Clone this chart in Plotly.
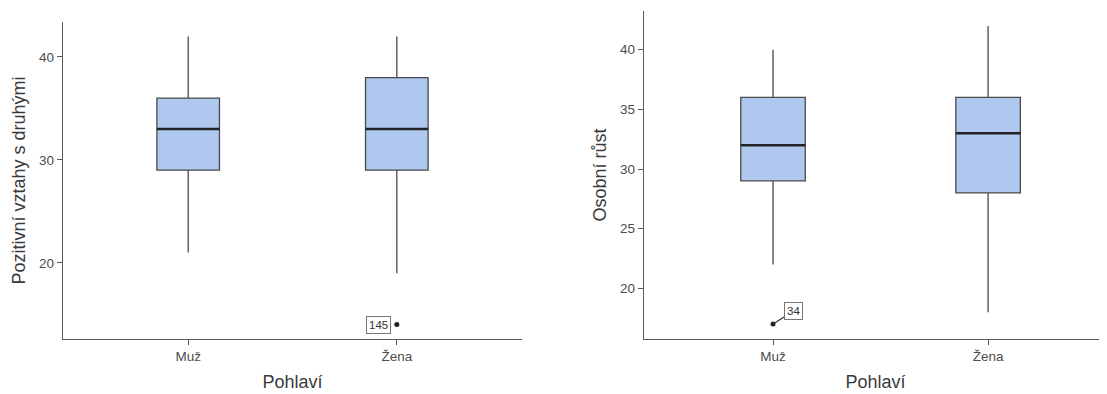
import plotly.graph_objects as go

categories = ["Muž", "Žena"]

# Left panel: Pozitivní vztahy s druhými
left_low = [21, 19]
left_q1 = [29, 29]
left_med = [33, 33]
left_q3 = [36, 38]
left_high = [42, 42]
left_out_cat = [1]
left_out_val = [14]
left_out_lab = ["145"]

# Right panel: Osobní růst
right_low = [22, 18]
right_q1 = [29, 28]
right_med = [32, 33]
right_q3 = [36, 36]
right_high = [40, 42]
right_out_cat = [0]
right_out_val = [17]
right_out_lab = ["34"]

FILL = "#aec8f0"
EDGE = "#4a4a4a"
AXIS = "#5a5a5a"
FONT = "Liberation Sans, Arial, sans-serif"
BW = 0.3
W, H = 1099, 386  # page body has an 8px margin

pos = list(range(len(categories)))
fig = go.Figure()


def add_panel(xa, ya, low, q1, med, q3, high, out_cat, out_val):
    fig.add_trace(go.Box(
        x=pos, q1=q1, median=med, q3=q3, lowerfence=low, upperfence=high,
        width=BW, whiskerwidth=0, fillcolor=FILL,
        line=dict(color=EDGE, width=1.3), boxpoints=False,
        xaxis=xa, yaxis=ya, showlegend=False, hoverinfo="skip"))
    mx, my = [], []
    for p, m in zip(pos, med):
        mx += [p - BW / 2, p + BW / 2, None]
        my += [m, m, None]
    fig.add_trace(go.Scatter(x=mx, y=my, mode="lines",
                             line=dict(color="#222222", width=2.6),
                             xaxis=xa, yaxis=ya, showlegend=False, hoverinfo="skip"))
    fig.add_trace(go.Scatter(x=out_cat, y=out_val, mode="markers",
                             marker=dict(color="#222222", size=5),
                             xaxis=xa, yaxis=ya, showlegend=False, hoverinfo="skip"))


add_panel("x", "y", left_low, left_q1, left_med, left_q3, left_high, left_out_cat, left_out_val)
add_panel("x2", "y2", right_low, right_q1, right_med, right_q3, right_high, right_out_cat, right_out_val)

for c, v, t in zip(left_out_cat, left_out_val, left_out_lab):
    fig.add_annotation(x=c, y=v, xref="x", yref="y", text=t, showarrow=False,
                       xanchor="right", xshift=-6,
                       font=dict(family=FONT, size=11.5, color="#333333"),
                       bordercolor="#777777", borderwidth=1, borderpad=2, bgcolor="white")
for c, v, t in zip(right_out_cat, right_out_val, right_out_lab):
    fig.add_annotation(x=c, y=v, xref="x2", yref="y2", text=t, showarrow=True,
                       arrowhead=0, arrowwidth=1.2, arrowcolor="#333333",
                       ax=20, ay=-13,
                       font=dict(family=FONT, size=11.5, color="#333333"),
                       bordercolor="#777777", borderwidth=1, borderpad=2, bgcolor="white")

axis_common = dict(showline=True, linecolor=AXIS, linewidth=1.3, ticks="outside",
                   ticklen=5, tickcolor=AXIS, tickwidth=1.3, showgrid=False, zeroline=False,
                   tickfont=dict(family=FONT, size=13.5, color="#4d4d4d"),
                   automargin=False)
TITLE_FONT = dict(family=FONT, size=18, color="#3a3a3a")

fig.update_layout(
    width=W, height=H,
    margin=dict(l=0, r=0, t=0, b=55),
    plot_bgcolor="white", paper_bgcolor="white",
    font=dict(family=FONT),
    xaxis=dict(domain=[55 / W, 514 / W], range=[-0.6, 1.6],
               tickvals=pos, ticktext=categories, anchor="y",
               title=dict(text="Pohlaví", font=TITLE_FONT, standoff=12),
               **axis_common),
    yaxis=dict(domain=[0, 317 / 331], range=[12.6, 43.4], anchor="x",
               tickvals=[20, 30, 40],
               title=dict(text="Pozitivní vztahy s druhými", font=TITLE_FONT, standoff=8),
               **axis_common),
    xaxis2=dict(domain=[636 / W, 1.0], range=[-0.6, 1.553],
                tickvals=pos, ticktext=categories, anchor="y2",
                title=dict(text="Pohlaví", font=TITLE_FONT, standoff=12),
                **axis_common),
    yaxis2=dict(domain=[0, 328 / 331], range=[15.75, 43.25], anchor="x2",
                tickvals=[20, 25, 30, 35, 40],
                title=dict(text="Osobní růst", font=TITLE_FONT, standoff=8),
                **axis_common),
)

fig.write_html("out.html")
